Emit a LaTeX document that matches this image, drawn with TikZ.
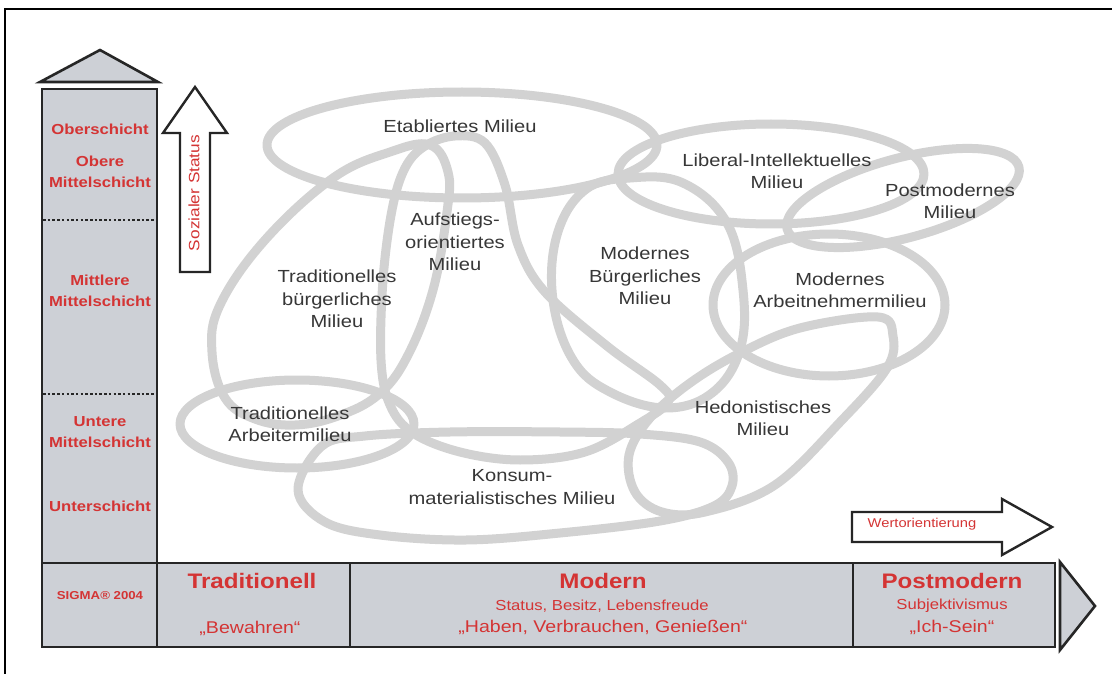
\documentclass[tikz,border=0pt]{standalone}
\usepackage{fontspec}
\setmainfont{Liberation Sans}
\newfontfamily\stfont{Liberation Sans}[FakeStretch=1.15]
\definecolor{sred}{RGB}{212,52,52}
\definecolor{panel}{RGB}{205,208,214}
\definecolor{loopc}{RGB}{210,210,210}
\definecolor{ink}{RGB}{55,55,55}
\begin{document}
\begin{tikzpicture}[x=1pt,y=-1pt,
  milieu/.style={draw=loopc, line width=9pt, line join=round},
  mtext/.style={text=ink, align=center, inner sep=0pt, font=\stfont\fontsize{17.5}{22.5}\selectfont},
  ltext/.style={text=sred, align=center, inner sep=0pt, font=\stfont\bfseries\fontsize{14.5}{21}\selectfont},
  btitle/.style={text=sred, inner sep=0pt, font=\stfont\bfseries\fontsize{21}{24}\selectfont},
  bsub/.style={text=sred, inner sep=0pt, font=\stfont\fontsize{14.5}{18}\selectfont},
  bquote/.style={text=sred, inner sep=0pt, font=\stfont\fontsize{17}{20}\selectfont},
  panelbox/.style={fill=panel, draw=black!85, line width=2.6pt},
  hollowarrow/.style={fill=white, draw=black!85, line width=2.4pt, line join=miter},
  levelsep/.style={draw=black!85, line width=2.5pt, dash pattern=on 2.5pt off 2.2pt}
]
\useasboundingbox (0,0) rectangle (1112,674);
\fill[white] (0,0) rectangle (1112,674);
% outer frame
\draw[line width=2pt] (5,680) -- (5,9.5) -- (1118,9.5);

% ---------- milieu loops ----------
% Etabliertes
\draw[milieu] (462,145) ellipse [x radius=195, y radius=53];
% Liberal-Intellektuelles
\draw[milieu] (771,174) ellipse [x radius=153, y radius=50];
% Postmodernes
\draw[milieu, rotate around={15:(903,198)}] (903,198) ellipse [x radius=120, y radius=40];
% Modernes Arbeitnehmermilieu
\draw[milieu] (829,305) ellipse [x radius=116, y radius=71];
% Traditionelles Arbeitermilieu
\draw[milieu] (297,424) ellipse [x radius=117, y radius=44];
% Traditionelles buergerliches
\draw[milieu] plot[smooth cycle, tension=0.65] coordinates {
  (430,145) (448,172) (447,212) (433,290) (407,357) (378,395) (338,416)
  (295,425) (255,419) (225,398) (212,352) (220,305) (265,240) (333,178) (390,152)};
% Aufstiegsorientiertes
\draw[milieu] plot[smooth cycle, tension=0.6] coordinates {
  (425,146) (455,136) (485,143) (505,185) (518,245) (545,292) (607,346)
  (660,385) (668,402) (640,423) (585,452) (520,460) (460,452) (413,433)
  (390,405) (381,360) (383,280) (392,210) (405,168)};
% Modernes Buergerliches
\draw[milieu] plot[smooth cycle, tension=0.65] coordinates {
  (585,190) (630,178) (683,183) (727,223) (743,290) (740,350) (712,393)
  (665,408) (610,392) (573,360) (553,300) (557,235)};
% Hedonistisches
\draw[milieu] plot[smooth cycle, tension=0.6] coordinates {
  (893,336) (878,317) (800,328) (740,353) (690,383) (650,418) (629,455)
  (635,492) (662,512) (705,512) (775,485) (842,420) (887,368)};
% Konsum-materialistisches
\draw[milieu] plot[smooth cycle, tension=0.6] coordinates {
  (298,490) (322,446) (365,436) (450,432) (560,432) (640,434) (700,442)
  (728,462) (732,486) (714,506) (660,521) (560,533) (466,540) (380,535)
  (325,522)};

% ---------- milieu labels ----------
\node[mtext] (etab) at (460,126) {Etabliertes Milieu};
\node[mtext] (tradb) at (337,299) {Traditionelles\\bürgerliches\\Milieu};
\node[mtext] (aufst) at (455,242) {Aufstiegs-\\orientiertes\\Milieu};
\node[mtext] (modb) at (645,276) {Modernes\\Bürgerliches\\Milieu};
\node[mtext] (libint) at (777,171) {Liberal-Intellektuelles\\Milieu};
\node[mtext] (postm) at (950,201) {Postmodernes\\Milieu};
\node[mtext] (modarb) at (840,290) {Modernes\\Arbeitnehmermilieu};
\node[mtext] (hedon) at (763,418) {Hedonistisches\\Milieu};
\node[mtext] (traba) at (290,424) {Traditionelles\\Arbeitermilieu};
\node[mtext] (konsum) at (512,487) {Konsum-\\materialistisches Milieu};

% ---------- left column ----------
\draw[panelbox] (40,82) -- (100,50) -- (158,82) -- cycle;
\draw[panelbox] (42,89) rectangle (157,647);
\draw[draw=black!85, line width=2.6pt] (42,563) -- (157,563);
\draw[levelsep] (43,220) -- (156,220);
\draw[levelsep] (43,394) -- (156,394);
\node[ltext] (ober) at (100,129) {Oberschicht};
\node[ltext] (obmit) at (100,171.5) {Obere\\Mittelschicht};
\node[ltext] (mitmit) at (100,290.5) {Mittlere\\Mittelschicht};
\node[ltext] (untmit) at (100,432.5) {Untere\\Mittelschicht};
\node[ltext] (unter) at (100,506) {Unterschicht};
\node[ltext, font=\stfont\bfseries\fontsize{11.5}{14}\selectfont] (sigma) at (100,596) {SIGMA® 2004};

% Sozialer Status arrow
\draw[hollowarrow] (180,272) -- (180,133) -- (163,133) -- (195,87) -- (227,133) -- (210,133) -- (210,272) -- cycle;
\node[text=sred, inner sep=0pt, rotate=90, font=\stfont\fontsize{15}{18}\selectfont] (sozst) at (194,193) {Sozialer Status};

% ---------- bottom bar ----------
\draw[panelbox] (157,563) rectangle (1055,647);
\draw[draw=black!85, line width=2.6pt] (350,563) -- (350,647);
\draw[draw=black!85, line width=2.6pt] (853,563) -- (853,647);
\draw[panelbox] (1060,562) -- (1095,606) -- (1060,650) -- cycle;

\node[btitle] (trad) at (252,581) {Traditionell};
\node[bquote] (bew) at (250,628) {„Bewahren“};
\node[btitle] (mod) at (603,581) {Modern};
\node[bsub] (stat) at (602,606) {Status, Besitz, Lebensfreude};
\node[bquote] (haben) at (603,627) {„Haben, Verbrauchen, Genießen“};
\node[btitle] (pmod) at (952,581) {Postmodern};
\node[bsub] (subj) at (952,606) {Subjektivismus};
\node[bquote] (ich) at (952,627) {„Ich-Sein“};

% Wertorientierung arrow
\draw[hollowarrow] (852,512) -- (1002,512) -- (1002,499) -- (1052,527) -- (1002,555) -- (1002,542) -- (852,542) -- cycle;
\node[text=sred, inner sep=0pt, font=\stfont\fontsize{12.8}{15}\selectfont] (wert) at (922,524) {Wertorientierung};
\end{tikzpicture}
\end{document}
